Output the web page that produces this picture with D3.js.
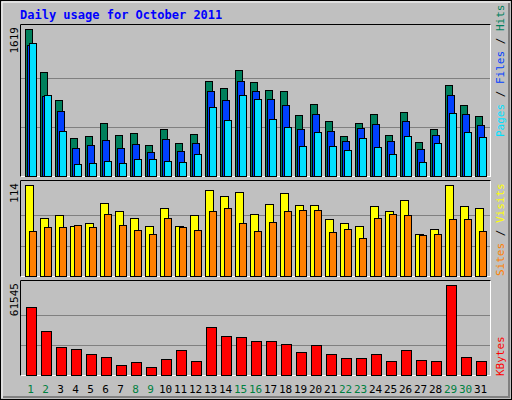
<!DOCTYPE html>
<html><head><script src="https://cdn.jsdelivr.net/npm/d3@7"></script>
<style>body{margin:0;background:#fff}</style></head><body>
<script>
const days = d3.range(1, 32);
const weekend = [1,2,8,9,15,16,22,23,29,30];
const hits = [1619,1149,840,422,444,587,455,477,345,521,367,466,1050,973,1171,1039,951,940,675,796,609,444,587,686,455,708,378,521,1006,785,664];
const files = [1446,884,719,312,345,400,312,356,268,411,279,367,940,840,1050,940,851,785,521,686,499,389,532,576,389,609,301,455,895,686,565];
const pages = [1468,895,499,136,147,169,147,191,191,169,158,246,763,620,895,851,631,543,334,488,334,290,422,323,246,444,158,367,697,488,433];
const visits = [114,73,76,63,67,92,82,73,63,85,63,76,108,100,105,78,90,104,89,89,72,66,63,88,81,95,52,59,114,88,85];
const sites = [57,61,61,64,61,78,64,58,52,73,61,58,81,85,67,56,68,82,83,83,55,59,47,73,78,76,51,52,71,71,57];
const kbytes = [46660,29750,18930,17580,14200,12170,6760,8790,5410,10820,16900,9470,33130,26370,25700,22990,22990,20960,15550,20290,14200,11500,11500,14200,9470,16900,10140,9470,61545,12170,9470];

const W=512,H=400;
const svg=d3.select("body").append("svg").attr("width",W).attr("height",H);
svg.append("rect").attr("width",W).attr("height",H).attr("fill","#000");
svg.append("rect").attr("x",1).attr("y",1).attr("width",W-2).attr("height",H-2).attr("fill","#c0c0c0");
// 3D frame
svg.append("path").attr("d",`M2,${H-2}V2H${W-2}`).attr("stroke","#fff").attr("fill","none").attr("stroke-width",1);
svg.append("path").attr("d",`M${W-3},3V${H-3}H3`).attr("stroke","#808080").attr("fill","none").attr("stroke-width",2);

svg.append("text").attr("x",20).attr("y",19).text("Daily usage for October 2011")
  .attr("font-family","DejaVu Sans Mono").attr("font-weight","bold").attr("font-size",12).attr("fill","#0000ff");

const x=d3.scaleBand().domain(days).range([22,487]);
const font="DejaVu Sans Mono";

function panel(y0,y1,max,label){
  svg.append("rect").attr("x",20.5).attr("y",y0-0.5).attr("width",470).attr("height",y1-y0+1)
    .attr("fill","#c0c0c0").attr("stroke","#fff");
  svg.append("path").attr("d",`M20.5,${y1+0.5}V${y0-0.5}H490.5`).attr("stroke","#000").attr("fill","none");
  const y=d3.scaleLinear().domain([0,max]).range([y1,y0+4]);
  [1/3,2/3].forEach(f=>{
    const gy=Math.round(y(max*f))+0.5;
    svg.append("line").attr("x1",21).attr("x2",490).attr("y1",gy).attr("y2",gy).attr("stroke","#808080");
  });
  svg.append("text").attr("transform",`translate(18,${y0+2}) rotate(-90)`).attr("text-anchor","end")
    .attr("font-family",font).attr("font-size",11).attr("fill","#000").text(label);
  return y;
}
function bars(data,y,off,w,color){
  svg.append("g").selectAll("rect").data(data).join("rect")
    .attr("x",(d,i)=>x(days[i])+off+0.5).attr("y",d=>Math.round(y(d))+0.5)
    .attr("width",w).attr("height",d=>y(0)-Math.round(y(d)))
    .attr("fill",color).attr("stroke","#000");
}
const y1=panel(25,176,1619,"1619");
bars(hits,y1,3,7,"#00805c");
bars(files,y1,5,7,"#0040ff");
bars(pages,y1,7,7,"#00e0ff");
const y2=panel(181,276,114,"114");
bars(visits,y2,3,8,"#ffff00");
bars(sites,y2,7,7,"#ff8000");
const y3=panel(281,375,61545,"61545");
bars(kbytes,y3,4,10,"#ff0000");

svg.append("g").selectAll("text").data(days).join("text")
  .attr("x",d=>x(d)+x.bandwidth()/2+1).attr("y",393).attr("text-anchor","middle")
  .attr("font-family",font).attr("font-size",11)
  .attr("fill",d=>weekend.includes(d)?"#008040":"#000").text(d=>d);

function legend(yb,parts){
  const t=svg.append("text").attr("transform",`translate(504,${yb}) rotate(-90)`)
    .attr("font-family",font).attr("font-size",11);
  parts.forEach(([s,c])=>t.append("tspan").attr("fill",c).text(s));
}
legend(137,[["Pages","#00e0ff"],[" / ","#000"],["Files","#0040ff"],[" / ","#000"],["Hits","#00805c"]]);
legend(276,[["Sites","#ff8000"],[" / ","#000"],["Visits","#ffff00"]]);
legend(376,[["KBytes","#ff0000"]]);
</script></body></html>
